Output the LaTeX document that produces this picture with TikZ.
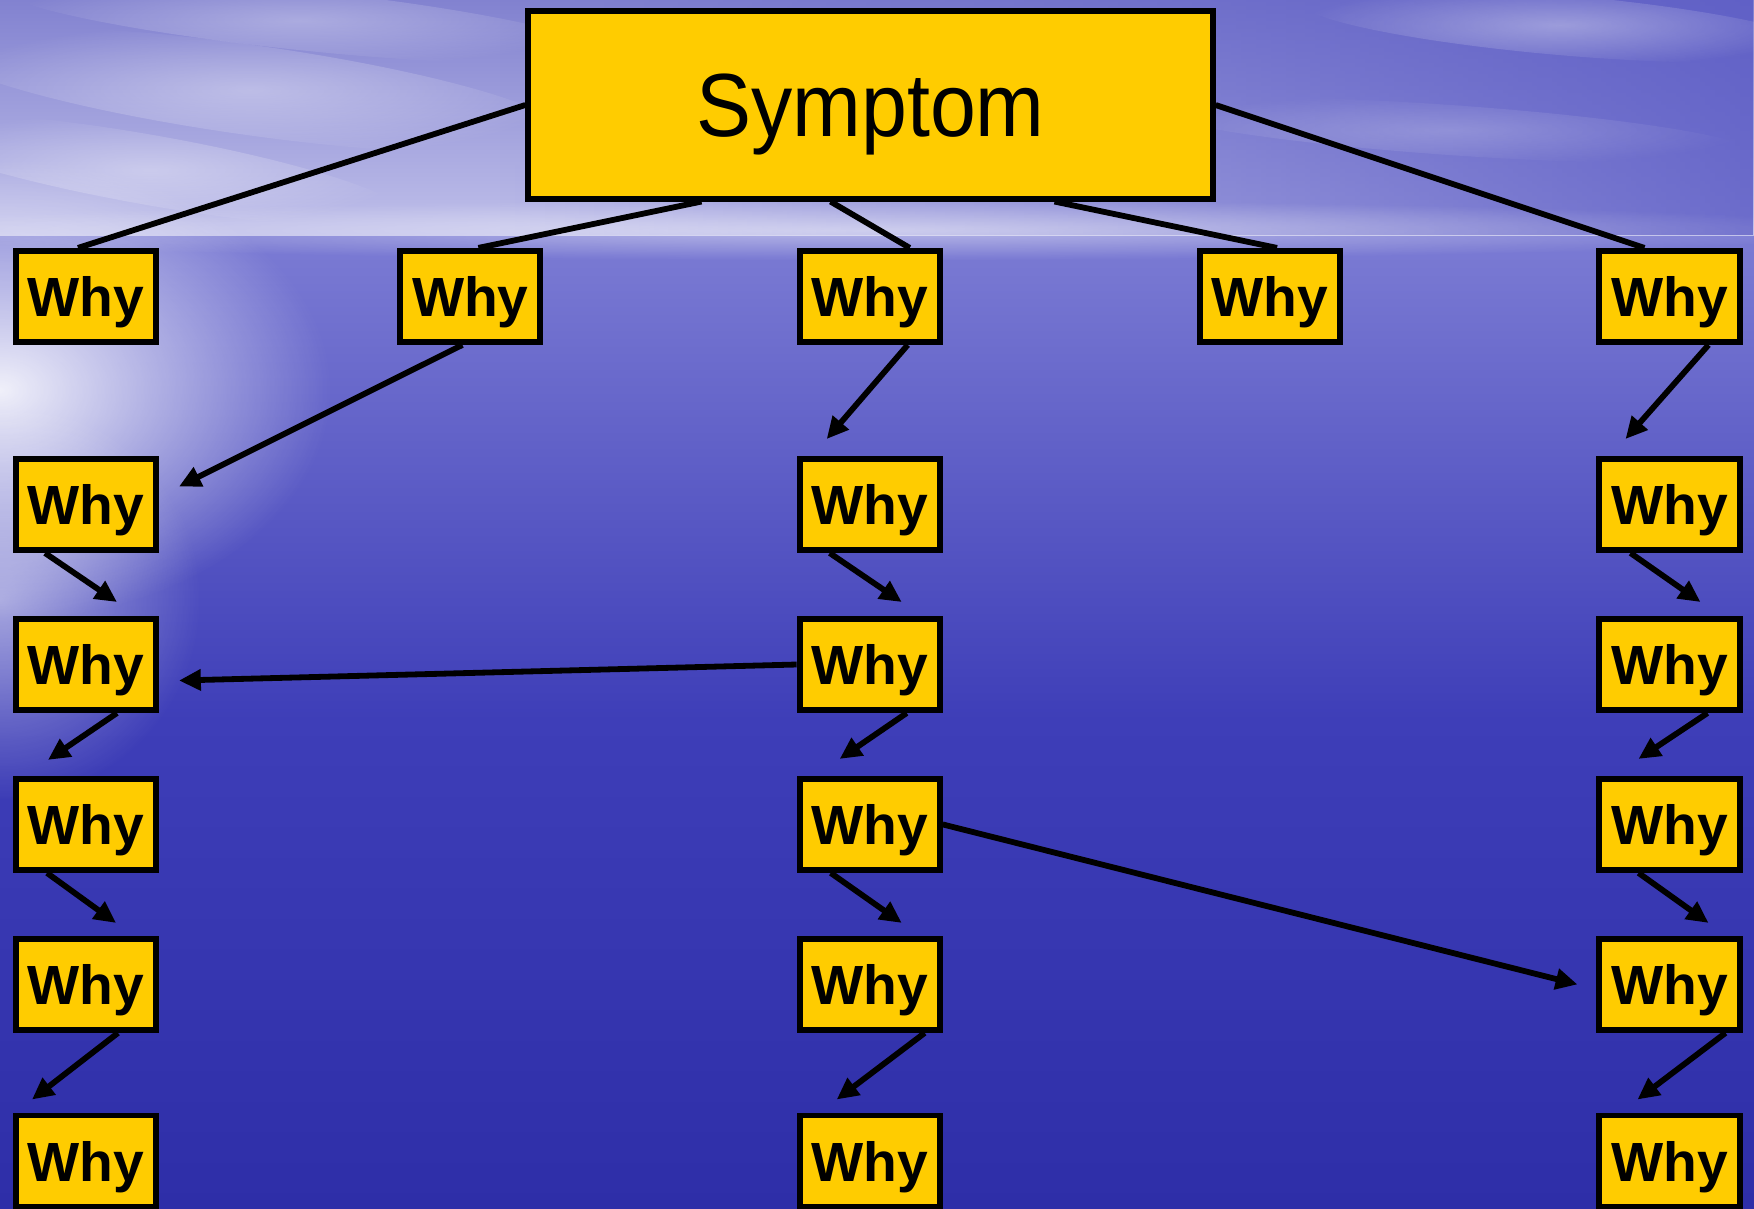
\documentclass[tikz,border=0pt]{standalone}
\usepackage{fontspec}
\setmainfont{Liberation Sans}
\newfontfamily\symfont[FakeStretch=0.92]{Liberation Sans}
\usetikzlibrary{calc,fadings,arrows.meta}
\definecolor{whyfill}{RGB}{255,204,0}
\definecolor{skytop}{RGB}{130,130,208}
\definecolor{skybot}{RGB}{192,192,234}
\definecolor{skydark}{RGB}{88,88,196}
\definecolor{seatop}{RGB}{124,124,212}
\definecolor{seamid}{RGB}{62,62,184}
\definecolor{seabot}{RGB}{46,46,168}
\tikzfading[name=glowfade, inner color=transparent!0, outer color=transparent!100]
\tikzfading[name=fadeR, left color=transparent!100, right color=transparent!0]
\tikzset{
  whybox/.style={draw=black, line width=1.7pt, fill=whyfill, minimum width=1.40cm,
    minimum height=0.91cm, inner sep=0pt, text depth=0pt,
    font=\fontsize{15.7}{16}\selectfont\bfseries},
  symbox/.style={draw=black, line width=1.7pt, fill=whyfill, minimum width=6.84cm,
    minimum height=1.87cm, inner sep=0pt, text depth=0pt,
    font=\symfont\fontsize{25.5}{27}\selectfont},
  link/.style={line width=1.65pt},
  arr/.style={line width=1.65pt, -{Triangle[length=6.2pt,width=5.8pt]}},
  glow/.style={fill=white, path fading=glowfade}
}
\begin{document}
\begin{tikzpicture}[x=0.01cm,y=-0.01cm]
\useasboundingbox (0,0) rectangle (1754,1208);
% background
\begin{scope}
\clip (0,0) rectangle (1754,1208);
\shade[top color=seatop, bottom color=seabot, middle color=seamid] (0,232) rectangle (1754,1208);
\shade[top color=skytop, bottom color=skybot] (0,0) rectangle (1754,235);
\fill[skydark, path fading=fadeR, fill opacity=0.8] (500,0) rectangle (1754,235);
\fill[glow, fill opacity=0.9] (0,390) ellipse (330 and 230);
\fill[glow, fill opacity=0.5] (0,600) ellipse (200 and 200);
\fill[glow, fill opacity=0.45] (870,230) ellipse (1000 and 30);
\fill[glow, fill opacity=0.35, rotate around={-8:(250,90)}] (250,90) ellipse (320 and 45);
\fill[glow, fill opacity=0.35, rotate around={-10:(150,170)}] (150,170) ellipse (260 and 35);
\fill[glow, fill opacity=0.3, rotate around={-6:(300,20)}] (300,20) ellipse (300 and 30);
\fill[glow, fill opacity=0.35, rotate around={-5:(1560,25)}] (1560,25) ellipse (260 and 30);
\fill[glow, fill opacity=0.2, rotate around={-4:(1450,130)}] (1450,130) ellipse (300 and 25);
\end{scope}
% nodes
\node[symbox] (sym) at (870.5,105) {Symptom};
\foreach \c/\x in {1/86,2/470.4,3/869.7,4/1270,5/1669.5}
  \node[whybox] (w1\c) at (\x,296.4) {Why};
\foreach \c/\x in {1/86,3/869.7,5/1669.5}{
  \node[whybox] (w2\c) at (\x,504.5) {Why};
  \node[whybox] (w3\c) at (\x,664.5) {Why};
  \node[whybox] (w4\c) at (\x,824.4) {Why};
  \node[whybox] (w5\c) at (\x,984.4) {Why};
  \node[whybox] (w6\c) at (\x,1161) {Why};
}
% lines from symptom
\draw[link] (sym.west) -- ($(w11.north)+(-8,0)$);
\draw[link] ($(sym.south)+(-169,0)$) -- ($(w12.north)+(8,0)$);
\draw[link] ($(sym.south)+(-40,0)$) -- ($(w13.north)+(40,0)$);
\draw[link] ($(sym.south)+(184,0)$) -- ($(w14.north)+(7,0)$);
\draw[link] (sym.east) -- ($(w15.north)+(-25,0)$);
% first level arrows
\draw[arr] ($(w12.south)+(-8,0)$) -- ($(w21.east)+(20,-18)$);
\draw[arr] ($(w13.south)+(38,0)$) -- ($(w23.north)+(-43,-17)$);
\draw[arr] ($(w15.south)+(39,0)$) -- ($(w25.north)+(-44,-17)$);
% column 1
\draw[arr] ($(w21.south)+(-41,0)$) -- ($(w31.north)+(31,-14)$);
\draw[arr] ($(w31.south)+(31,0)$) -- ($(w41.north)+(-38,-16)$);
\draw[arr] ($(w41.south)+(-39,0)$) -- ($(w51.north)+(30,-13)$);
\draw[arr] ($(w51.south)+(32,0)$) -- ($(w61.north)+(-54,-13)$);
% column 3
\draw[arr] ($(w23.south)+(-40,0)$) -- ($(w33.north)+(32,-14)$);
\draw[arr] ($(w33.south)+(37,0)$) -- ($(w43.north)+(-30,-17)$);
\draw[arr] ($(w43.south)+(-39,0)$) -- ($(w53.north)+(32,-13)$);
\draw[arr] ($(w53.south)+(55,0)$) -- ($(w63.north)+(-33,-13)$);
% column 5
\draw[arr] ($(w25.south)+(-39,0)$) -- ($(w35.north)+(31,-14)$);
\draw[arr] ($(w35.south)+(38,0)$) -- ($(w45.north)+(-31,-17)$);
\draw[arr] ($(w45.south)+(-31,0)$) -- ($(w55.north)+(39,-13)$);
\draw[arr] ($(w55.south)+(56,0)$) -- ($(w65.north)+(-32,-13)$);
% cross links
\draw[arr] (w33.west) -- ($(w31.east)+(20,16)$);
\draw[arr] (w43.east) -- ($(w55.west)+(-19,0)$);
\end{tikzpicture}
\end{document}
